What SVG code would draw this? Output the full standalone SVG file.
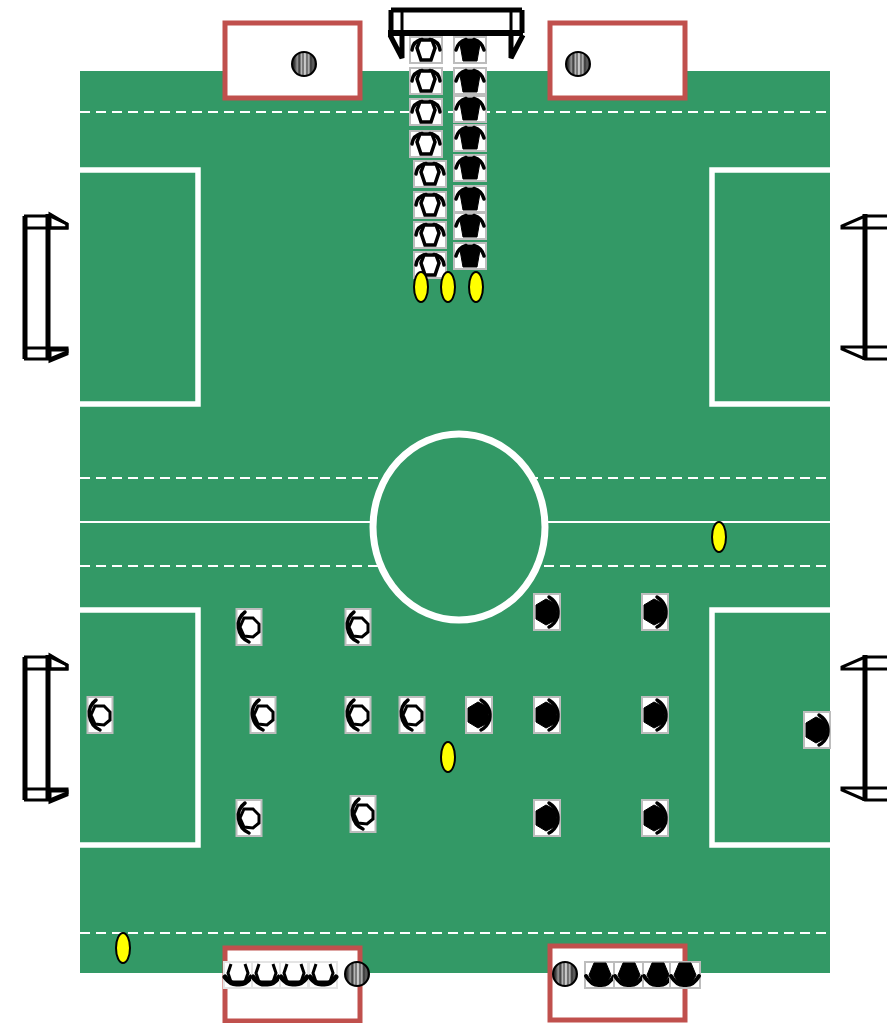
<svg xmlns="http://www.w3.org/2000/svg" xmlns:xlink="http://www.w3.org/1999/xlink" width="887" height="1023" viewBox="0 0 887 1023">
<style>
.line{fill:none;stroke:#fff;stroke-linecap:round}
.dash{stroke-width:2;stroke-dasharray:10 6;stroke-linecap:butt}
.area{stroke-width:5.500}
.bench{fill:#fff;stroke:#c0504d;stroke-width:5}
.box{fill:#fff;stroke:#bdbdbd;stroke-width:2}
.arc{fill:none;stroke:#000;stroke-width:3.500;stroke-linecap:round}
.hexw{fill:#fff;stroke:#000;stroke-width:3.500}
.hexb{fill:#000;stroke:#000;stroke-width:1}
.ref{fill:#ff0;stroke:#000;stroke-width:2}
.ball{fill:url(#ballg);stroke:#000;stroke-width:2}
.gt{fill:none;stroke:#000;stroke-width:3}
.gk{fill:none;stroke:#000;stroke-width:5}
</style>
<defs>
<linearGradient id="ballg" x1="0" x2="1" y1="0" y2="0">
<stop offset="0" stop-color="#111"/><stop offset="0.12" stop-color="#444"/><stop offset="0.22" stop-color="#999"/><stop offset="0.3" stop-color="#333"/><stop offset="0.4" stop-color="#bbb"/><stop offset="0.46" stop-color="#555"/><stop offset="0.54" stop-color="#eee"/><stop offset="0.62" stop-color="#555"/><stop offset="0.7" stop-color="#bbb"/><stop offset="0.78" stop-color="#333"/><stop offset="0.88" stop-color="#666"/><stop offset="1" stop-color="#111"/>
</linearGradient>
<g id="wu">
<rect class="box" x="-16" y="-13" width="32" height="26"/>
<path class="arc" d="M-14 0Q-13 -9 -4 -10.500M14 0Q13 -9 4 -10.500"/>
<path class="hexw" d="M-6 -10L6 -10L9 -2L5 10L-5 10L-9 -2Z"/>
</g>
<g id="bu">
<rect class="box" x="-16" y="-13" width="32" height="26"/>
<path class="arc" d="M-14 0Q-12 -8 -4 -10.500M14 0Q12 -8 4 -10.500"/>
<path class="hexb" d="M-10 -6L-4 -11L4 -11L10 -6L7 11L-7 11Z"/>
</g>
<g id="wl">
<rect class="box" x="-12.500" y="-18" width="25" height="36"/>
<path class="arc" d="M-4 -15Q-12 -9 -10.500 1Q-9 11 0 15"/>
<path class="hexw" d="M-5 -9L4 -9L10 -3L10 5L4 10L-5 9L-9 0Z" style="stroke-width:3"/>
</g>
<g id="br">
<rect class="box" x="-13" y="-18" width="26" height="36"/>
<path class="arc" d="M2 -15Q13 -8 10.500 5Q8 12 2 15"/>
<path class="hexb" d="M-11 -7L-1 -13L9 -8L9 8L-1 13L-11 7Z"/>
</g>
<g id="wd">
<rect class="box" x="-14" y="-13" width="28" height="26" style="stroke:#e4e4e4"/>
<path d="M-7 -11L-10 -2L-7 7L7 7L10 -2L7 -11" fill="#fff" stroke="#000" stroke-width="3"/>
<path class="arc" style="stroke-width:5" d="M-13 2Q-7 10 0 9M13 2Q7 10 0 9"/>
</g>
<g id="bd">
<rect class="box" x="-15" y="-13" width="30" height="26"/>
<path class="hexb" d="M-6 -12L6 -12L11 0L7 8L-7 8L-11 0Z"/>
<path class="arc" style="stroke-width:4" d="M-14 1Q-8 11 0 10M14 1Q8 11 0 10"/>
</g>
<g id="goalL">
<path class="gt" d="M24 216H50L67 224V228H24M24 348H67V352L50 359H24"/>
<path class="gk" d="M25 216V359M48 214V360"/>
<path d="M50 214L67 224V228H50ZM50 350H67V354L50 361Z" fill="none" stroke="#000" stroke-width="3"/>
</g>
<g id="goalR">
<path class="gt" d="M887 216H865L842 226V228H887M887 347H842V349L865 359H887"/>
<path class="gk" d="M865 214V360"/>
</g>
</defs>

<g id="pitch">
<rect x="80" y="71" width="750" height="902" fill="#339966"/>
</g>
<g id="markings">
<path class="line dash" d="M80 112H830M80 478H830M80 566H830M80 933H830"/>
<path class="line" stroke-width="2" d="M80 522H830"/>
<ellipse id="centre-circle" cx="459" cy="527" rx="86" ry="93" fill="#339966" stroke="#fff" stroke-width="7"/>
<path class="line area" d="M80 170H198V404H80M830 170H712V404H830M80 610H198V845H80M830 610H712V845H830"/>
</g>

<g id="goal-top">
<path class="gk" d="M391 10H522M391 10V33M522 10V33"/>
<path class="gt" d="M402 10V33M511 10V33"/>
<path d="M388 33H523" fill="none" stroke="#000" stroke-width="6"/>
<path class="gk" d="M390 35L402 58V35M523 35L511 58V35"/>
</g>
<use id="goal-left-1" xlink:href="#goalL" href="#goalL"/>
<use id="goal-left-2" xlink:href="#goalL" href="#goalL" y="441"/>
<use id="goal-right-1" xlink:href="#goalR" href="#goalR"/>
<use id="goal-right-2" xlink:href="#goalR" href="#goalR" y="441"/>

<g id="bench-top-left"><rect class="bench" x="225" y="23" width="135" height="75"/><circle class="ball" cx="304" cy="64" r="12"/></g>
<g id="bench-top-right"><rect class="bench" x="550" y="23" width="135" height="75"/><circle class="ball" cx="578" cy="64" r="12"/></g>
<g id="bench-bottom-left"><rect class="bench" x="225" y="948" width="135" height="73"/><circle class="ball" cx="357" cy="974" r="12"/></g>
<g id="bench-bottom-right"><rect class="bench" x="550" y="946" width="135" height="74"/><circle class="ball" cx="565" cy="974" r="12"/></g>

<g id="white-lineup">
<use id="wt1" href="#wu" x="426" y="50"/>
<use id="wt2" href="#wu" x="426" y="81"/>
<use id="wt3" href="#wu" x="426" y="112"/>
<use id="wt4" href="#wu" x="426" y="144"/>
<use id="wt5" href="#wu" x="430" y="174"/>
<use id="wt6" href="#wu" x="430" y="205"/>
<use id="wt7" href="#wu" x="430" y="235"/>
<use id="wt8" href="#wu" x="430" y="265"/>
</g>
<g id="black-lineup">
<use id="bt1" href="#bu" x="470" y="50"/>
<use id="bt2" href="#bu" x="470" y="81"/>
<use id="bt3" href="#bu" x="470" y="109"/>
<use id="bt4" href="#bu" x="470" y="138"/>
<use id="bt5" href="#bu" x="470" y="168"/>
<use id="bt6" href="#bu" x="470" y="199"/>
<use id="bt7" href="#bu" x="470" y="226"/>
<use id="bt8" href="#bu" x="470" y="256"/>
</g>
<g id="white-team">
<use id="w1" href="#wl" x="100" y="715"/>
<use id="w2" href="#wl" x="249" y="627"/>
<use id="w3" href="#wl" x="263" y="715"/>
<use id="w4" href="#wl" x="249" y="818"/>
<use id="w5" href="#wl" x="358" y="627"/>
<use id="w6" href="#wl" x="358" y="715"/>
<use id="w7" href="#wl" x="363" y="814"/>
<use id="w8" href="#wl" x="412" y="715"/>
</g>
<g id="black-team">
<use id="b1" href="#br" x="479" y="715"/>
<use id="b2" href="#br" x="547" y="612"/>
<use id="b3" href="#br" x="547" y="715"/>
<use id="b4" href="#br" x="547" y="818"/>
<use id="b5" href="#br" x="655" y="612"/>
<use id="b6" href="#br" x="655" y="715"/>
<use id="b7" href="#br" x="655" y="818"/>
<use id="b8" href="#br" x="817" y="730"/>
</g>
<g id="white-subs">
<use id="ws1" href="#wd" x="238" y="975"/>
<use id="ws2" href="#wd" x="266" y="975"/>
<use id="ws3" href="#wd" x="294" y="975"/>
<use id="ws4" href="#wd" x="323" y="975"/>
</g>
<g id="black-subs">
<use id="bs1" href="#bd" x="600" y="975"/>
<use id="bs2" href="#bd" x="629" y="975"/>
<use id="bs3" href="#bd" x="658" y="975"/>
<use id="bs4" href="#bd" x="685" y="975"/>
</g>
<g id="referees">
<ellipse class="ref" cx="421" cy="287" rx="7" ry="15"/>
<ellipse class="ref" cx="448" cy="287" rx="7" ry="15"/>
<ellipse class="ref" cx="476" cy="287" rx="7" ry="15"/>
<ellipse class="ref" cx="719" cy="537" rx="7" ry="15"/>
<ellipse class="ref" cx="448" cy="757" rx="7" ry="15"/>
<ellipse class="ref" cx="123" cy="948" rx="7" ry="15"/>
</g>
</svg>
